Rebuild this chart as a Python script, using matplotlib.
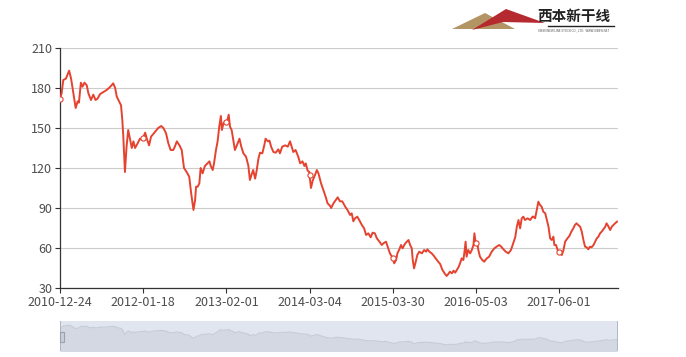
import numpy as np
import matplotlib
matplotlib.use('Agg')
import matplotlib.pyplot as plt
from matplotlib.patches import Polygon, Rectangle
from matplotlib.lines import Line2D

plt.rcParams['font.family'] = ['Noto Sans CJK SC', 'DejaVu Sans']

# trading-day index (category position) and closing price
day = [0, 5, 10, 18, 28, 34, 41, 48, 54, 58, 64, 69, 75, 82, 87, 95, 102, 109, 115, 123,
       133, 143, 150, 158, 163, 169, 174, 181, 187, 191, 194, 199, 204, 209, 215, 220, 225,
       230, 238, 245, 252, 261, 266, 273, 279, 291, 301, 310, 317, 325, 332, 339, 347, 352,
       358, 366, 373, 380, 388, 396, 402, 409, 414, 417, 422, 427, 431, 437, 444, 452, 458,
       462, 468, 472, 478, 483, 488, 493, 496, 501, 506, 511, 517, 521, 526, 531, 536, 542,
       550, 555, 562, 570, 577, 582, 587, 592, 598, 603, 608, 613, 620, 626, 630, 637, 642,
       647, 654, 661, 669, 674, 681, 690, 698, 705, 710, 715, 722, 730, 736, 743, 749, 753,
       759, 764, 769, 775, 782, 787, 792, 800, 807, 814, 820, 828, 831, 838, 845, 851, 858,
       865, 874, 881, 889, 894, 899, 904, 911, 917, 925, 932, 938, 945, 952, 958, 965, 971,
       979, 986, 991, 999, 1004, 1011, 1020, 1024, 1030, 1034, 1040, 1045, 1050, 1055, 1060,
       1068, 1073, 1078, 1081, 1085, 1089, 1095, 1101, 1109, 1116, 1122, 1126, 1132, 1139,
       1146, 1155, 1165, 1172, 1180, 1185, 1190, 1195, 1201, 1206, 1211, 1216, 1221, 1226,
       1231, 1236, 1239, 1243, 1246, 1251, 1257, 1262, 1267, 1270, 1274, 1278, 1282, 1287,
       1294, 1300, 1308, 1315, 1323, 1331, 1338, 1346, 1352, 1359, 1366, 1374, 1382, 1389,
       1395, 1400, 1405, 1410, 1415, 1420, 1425, 1433, 1441, 1448, 1451, 1456, 1461, 1466,
       1471, 1476, 1481, 1487, 1492, 1497, 1502, 1507, 1512, 1515, 1520, 1525, 1530, 1538,
       1543, 1548, 1555, 1561, 1567, 1573, 1578, 1583, 1588, 1594, 1599, 1604, 1609, 1614,
       1619, 1624, 1629, 1635, 1640, 1645, 1650, 1655, 1660, 1665, 1670, 1675, 1680, 1686,
       1691, 1696, 1701, 1707]
close = [172, 176, 186, 187, 193, 187, 176, 165, 170, 169, 184, 181, 184, 182, 176, 171, 175,
         171, 172, 175.5, 177, 178.5, 180, 182, 183.5, 180, 173.5, 170, 167, 156, 143.5, 117,
         136, 148.5, 141, 135, 140, 135, 138.5, 142, 141, 146.5, 142, 137, 143.5, 147, 150,
         151.5, 150, 146, 138.5, 133.5, 133.5, 136, 140, 137, 133.5, 120, 117, 113.5, 101,
         88.5, 96, 106, 106, 108.5, 120, 116, 121.5, 123.5, 125, 121.5, 118.5, 123.5, 133.5,
         140, 151, 159, 148.5, 153.5, 155, 154, 160, 151, 148.5, 141, 133.5, 137, 142, 136.5,
         131, 128.5, 122, 111, 115, 118.5, 112, 118.5, 127, 131.5, 131, 137, 142, 140, 140.5,
         136, 132, 131.5, 134, 131, 136, 137, 136, 140, 136, 132, 133.5, 128.5, 123.5, 125,
         121.5, 123.5, 118, 117, 105, 111, 115, 118.5, 116, 108.5, 103.5, 98.5, 93.5, 91.5,
         90, 93.5, 96, 98, 95, 95, 91, 88.5, 84.75, 86, 80, 82.25, 83.5, 81, 77.25, 74.75,
         69.75, 71, 68, 71.5, 71, 67.25, 64.75, 62.25, 63.5, 64.75, 61, 56, 52.25, 48.5, 51,
         56, 59, 62.25, 59.75, 62.25, 64, 66, 62.25, 59.75, 51, 44.75, 48.5, 54.75, 57.25,
         56, 58.5, 57.25, 59, 57.25, 56, 54, 51, 48, 43.5, 40.5, 39, 40.5, 42.25, 41, 43,
         41.5, 43.5, 45.5, 48.5, 52.25, 51, 56, 64.75, 53.5, 58.5, 56, 58.5, 62.25, 71, 63.5,
         64.75, 58.5, 53.5, 51, 49.75, 52.25, 53.5, 57.25, 59.75, 61, 62.25, 61, 59, 57.25,
         56, 58.5, 63.5, 68, 76, 81, 74.75, 82.25, 83.5, 81, 82.25, 81, 83.5, 83.5, 82.25,
         88.5, 94.75, 92.25, 91, 87.25, 86, 81, 76, 67.25, 66, 68.5, 62.25, 62.25, 58.5,
         57.25, 54.75, 58.5, 64.75, 67.25, 69, 72.25, 74.75, 77.25, 78.5, 77.25, 76, 72.25,
         66, 61, 60.5, 59, 61, 60.5, 62.25, 64.75, 67.25, 68.5, 71, 72.25, 74, 75.5, 78.5,
         76.5, 73.5, 76, 77.25, 78.5, 79.75]

tick_days = [0, 255, 510, 765, 1020, 1275, 1530]
tick_labels = ['2010-12-24', '2012-01-18', '2013-02-01', '2014-03-04',
               '2015-03-30', '2016-05-03', '2017-06-01']
y_ticks = [30, 60, 90, 120, 150, 180, 210]

line_color = '#e5432f'
text_color = '#4d4d4d'
n_days = 1710

fig = plt.figure(figsize=(6.86, 3.57), dpi=100)

# main chart
ax = fig.add_axes([60 / 686, 69 / 357, 558 / 686, 240 / 357])
ax.plot(day, close, color=line_color, lw=1.4, zorder=3)
mark_vals = np.interp(tick_days, day, close)
ax.scatter(tick_days, mark_vals, s=14, facecolor='white', edgecolor=line_color,
           linewidth=0.8, zorder=4)
ax.set_xlim(0, n_days)
ax.set_ylim(30, 210)
ax.set_yticks(y_ticks)
ax.set_xticks(tick_days)
ax.set_xticklabels(tick_labels)
ax.grid(axis='y', color='#cccccc', lw=0.8)
ax.set_axisbelow(True)
for side in ['top', 'right']:
    ax.spines[side].set_visible(False)
for side in ['left', 'bottom']:
    ax.spines[side].set_color('#333333')
    ax.spines[side].set_linewidth(0.9)
ax.tick_params(axis='both', direction='out', length=3.5, width=0.8, color='#333333',
               labelcolor=text_color, labelsize=9)
ax.tick_params(axis='x', pad=2)
ax.tick_params(axis='y', pad=2)

# data zoom slider
sl = fig.add_axes([60 / 686, 6 / 357, 558 / 686, 30 / 357])
sl.set_facecolor('#e0e5ef')
sl.fill_between(day, close, -20, color='#d3d8e2', lw=0)
sl.plot(day, close, color='#c6ccd7', lw=0.8)
sl.set_xlim(0, n_days)
sl.set_ylim(-10, 225)
sl.set_xticks([])
sl.set_yticks([])
for s in sl.spines.values():
    s.set_visible(False)
sl.axvline(0, color='#a9b0bd', lw=1.2)
sl.axvline(n_days, color='#a9b0bd', lw=1.2)
sl.add_patch(Rectangle((0, 60), 12, 80, facecolor='#c9ced8', edgecolor='#9aa2b0',
                       lw=0.8, clip_on=False, zorder=5))

# logo
fig.patches.append(Polygon([(452 / 686, 328 / 357), (485 / 686, 344 / 357), (515 / 686, 328 / 357)],
                           closed=True, facecolor='#b39464', edgecolor='none',
                           transform=fig.transFigure, figure=fig))
fig.patches.append(Polygon([(472 / 686, 327 / 357), (506 / 686, 348 / 357), (545 / 686, 334 / 357),
                            (503 / 686, 335 / 357)],
                           closed=True, facecolor='#b52a2e', edgecolor='none',
                           transform=fig.transFigure, figure=fig))
fig.text(574 / 686, 341 / 357, '西本新干线', fontsize=10.5, fontweight='bold',
         color='#222222', ha='center', va='center', style='italic')
fig.lines.append(Line2D([548 / 686, 614 / 686], [331.5 / 357, 331.5 / 357], color='#222222',
                        lw=1.0, transform=fig.transFigure, figure=fig))
fig.text(574 / 686, 327 / 357, 'XIBEN NEW LINE STOCK CO., LTD.  WWW.XIBEN.NET',
         fontsize=2.2, color='#555555', ha='center', va='center')

plt.savefig('out.png', dpi=100)
